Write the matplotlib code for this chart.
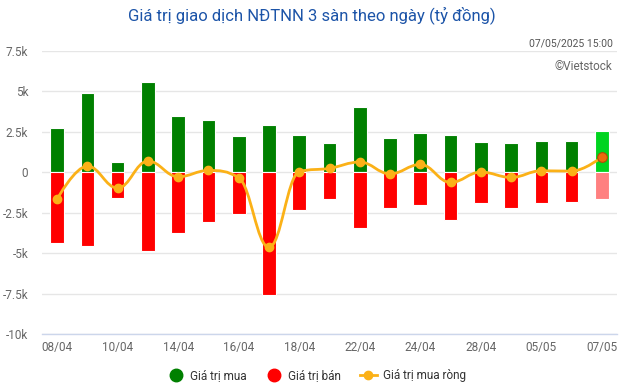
import matplotlib
matplotlib.use("Agg")
import matplotlib.pyplot as plt
from matplotlib.path import Path
from matplotlib.patches import PathPatch
from matplotlib.lines import Line2D
import numpy as np

plt.rcParams['font.family'] = ['Roboto', 'DejaVu Sans']

dates = ["08/04", "09/04", "10/04", "11/04", "14/04", "15/04", "16/04", "17/04",
         "18/04", "21/04", "22/04", "23/04", "24/04", "25/04", "28/04", "29/04",
         "05/05", "06/05", "07/05"]
buy = [2.73, 4.88, 0.62, 5.56, 3.46, 3.21, 2.24, 2.90, 2.30, 1.83, 4.03, 2.12,
       2.45, 2.28, 1.89, 1.83, 1.95, 1.95, 2.57]
sell = [-4.36, -4.55, -1.57, -4.88, -3.75, -3.07, -2.57, -7.57, -2.31, -1.67,
        -3.42, -2.22, -2.02, -2.93, -1.90, -2.19, -1.90, -1.83, -1.67]
net = [-1.65, 0.39, -0.97, 0.70, -0.27, 0.12, -0.33, -4.63, 0.04, 0.25, 0.64,
       -0.09, 0.49, -0.62, 0.02, -0.31, 0.10, 0.08, 0.94]
yticks = [-10, -7.5, -5, -2.5, 0, 2.5, 5, 7.5]
ytick_labels = ["-10k", "-7.5k", "-5k", "-2.5k", "0", "2.5k", "5k", "7.5k"]

GREEN = "#008000"
RED = "#ff0000"
LGREEN = "#00d41f"
LRED = "#ff8080"
ORANGE = "#fbb117"

fig = plt.figure(figsize=(6.4, 3.88), dpi=100)
ax = fig.add_axes([0.0656, 0.1384, 0.8985, 0.7302])

x = np.arange(len(dates))
bcol = [GREEN] * (len(dates) - 1) + [LGREEN]
scol = [RED] * (len(dates) - 1) + [LRED]
ax.bar(x, buy, width=0.45, color=bcol, edgecolor="white", linewidth=0.8, zorder=2)
ax.bar(x, sell, width=0.45, color=scol, edgecolor="white", linewidth=0.8, zorder=2)

# Highcharts-style spline through the net values
def spline_path(xs, ys, smoothing=1.5):
    n = len(xs)
    lc = [None] * n
    rc = [None] * n
    d = smoothing + 1
    for i in range(1, n - 1):
        px, py = xs[i], ys[i]
        lx, ly = xs[i - 1], ys[i - 1]
        nx, ny = xs[i + 1], ys[i + 1]
        lcx = (smoothing * px + lx) / d
        lcy = (smoothing * py + ly) / d
        rcx = (smoothing * px + nx) / d
        rcy = (smoothing * py + ny) / d
        if rcx != lcx:
            corr = ((rcy - lcy) * (rcx - px)) / (rcx - lcx) + py - rcy
            lcy += corr
            rcy += corr
        if lcy > max(ly, py):
            lcy = max(ly, py); rcy = 2 * py - lcy
        elif lcy < min(ly, py):
            lcy = min(ly, py); rcy = 2 * py - lcy
        if rcy > max(py, ny):
            rcy = max(py, ny); lcy = 2 * py - rcy
        elif rcy < min(py, ny):
            rcy = min(py, ny); lcy = 2 * py - rcy
        lc[i] = (lcx, lcy)
        rc[i] = (rcx, rcy)
    verts = [(xs[0], ys[0])]
    codes = [Path.MOVETO]
    for i in range(1, n):
        c1 = rc[i - 1] if rc[i - 1] is not None else (xs[i - 1], ys[i - 1])
        c2 = lc[i] if lc[i] is not None else (xs[i], ys[i])
        verts += [c1, c2, (xs[i], ys[i])]
        codes += [Path.CURVE4] * 3
    return Path(verts, codes)

ax.add_patch(PathPatch(spline_path(list(x), net), facecolor="none",
                       edgecolor=ORANGE, linewidth=2, zorder=3))
ax.plot(x[:-1], net[:-1], linestyle="none", marker="o", markersize=6,
        color=ORANGE, markeredgecolor=ORANGE, zorder=4)
ax.plot(x[-1:], net[-1:], linestyle="none", marker="o", markersize=7,
        color="#ec6a0c", markeredgecolor="#b04a06", markeredgewidth=0.8, zorder=5)

ax.set_xlim(-0.5, len(dates) - 0.5)
ax.set_ylim(-10, 7.5)
ax.set_yticks(yticks)
ax.set_yticklabels(ytick_labels)
ax.set_xticks(x[::2])
ax.set_xticklabels(dates[::2])
ax.grid(axis="y", color="#e6e6e6", linewidth=1, zorder=0)
ax.set_axisbelow(True)
for s in ["top", "right", "left"]:
    ax.spines[s].set_visible(False)
ax.spines["bottom"].set_color("#ccd6eb")
ax.spines["bottom"].set_linewidth(1)
ax.tick_params(axis="both", length=0, colors="#666666", labelsize=8.5)
ax.tick_params(axis="y", pad=10)
ax.tick_params(axis="x", pad=5)

fig.text(0.487, 0.962, "Giá trị giao dịch NĐTNN 3 sàn theo ngày (tỷ đồng)",
         ha="center", va="center", color="#1c54a8", fontsize=12)
fig.text(0.957, 0.887, "07/05/2025 15:00", ha="right", va="center",
         color="#555555", fontsize=7.5)
fig.text(0.957, 0.828, "©Vietstock", ha="right", va="center",
         color="#666666", fontsize=8.5)

handles = [
    Line2D([], [], linestyle="none", marker="o", markersize=9, color=GREEN),
    Line2D([], [], linestyle="none", marker="o", markersize=9, color=RED),
    Line2D([], [], color=ORANGE, linewidth=2, marker="o", markersize=6),
]
leg = fig.legend(handles, ["Giá trị mua", "Giá trị bán", "Giá trị mua ròng"],
                 loc="center", bbox_to_anchor=(0.495, 0.031), ncol=3, frameon=False,
                 fontsize=8.5, handlelength=1.4, handletextpad=0.5, columnspacing=1.6)
for t in leg.get_texts():
    t.set_color("#333333")

fig.savefig("out.png", dpi=100)
